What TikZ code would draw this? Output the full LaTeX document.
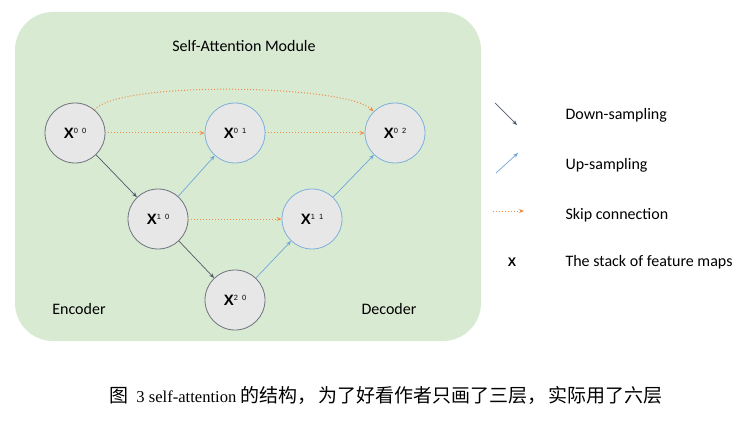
\documentclass[tikz,border=0pt]{standalone}
\usepackage{fontspec}
\usetikzlibrary{arrows.meta}
\setmainfont{Carlito}
\newfontfamily\capfont{Liberation Serif}
\newfontfamily\cjk{Noto Sans CJK SC}
\newfontfamily\mapfont{Liberation Sans}[BoldFont={Liberation Sans Bold}]

\definecolor{modgreen}{RGB}{217,234,211}
\definecolor{mapfill}{RGB}{231,231,231}
\definecolor{encline}{RGB}{110,115,125}
\definecolor{decline}{RGB}{125,175,220}
\definecolor{downclr}{RGB}{80,90,105}
\definecolor{upclr}{RGB}{111,165,216}
\definecolor{skipclr}{RGB}{240,140,70}

% feature map label: X with its two indices
\newcommand{\fmap}[2]{{\mapfont\fontsize{15}{15}\selectfont\bfseries X\raisebox{4.5pt}{\mdseries\fontsize{7.5}{7.5}\selectfont #1\hspace{4pt}#2}}}

\begin{document}
\begin{tikzpicture}[x=1pt, y=1pt,
    >={Stealth[length=5pt, width=4pt]},
    enc/.style={draw=encline, fill=mapfill, circle, line width=0.8pt, minimum size=60pt, inner sep=0pt},
    dec/.style={draw=decline, fill=mapfill, circle, line width=0.8pt, minimum size=60pt, inner sep=0pt},
    down/.style={->, draw=downclr, line width=0.7pt},
    up/.style={->, draw=upclr, line width=0.7pt},
    skip/.style={->, draw=skipclr, line width=1pt, dash pattern=on 1pt off 2pt},
    lbl/.style={font=\fontsize{16}{16}\selectfont}]
    \useasboundingbox (0,0) rectangle (752,421);
    \fill[modgreen, rounded corners=38pt] (15,80) rectangle (481,409);

    \node[lbl] (title) at (244,375) {Self-Attention Module};
    \node[lbl] (enclbl) at (79,112) {Encoder};
    \node[lbl] (declbl) at (389,112) {Decoder};

    \node[enc] (x00) at (75,288) {\fmap{0}{0}};
    \node[dec] (x01) at (235,288) {\fmap{0}{1}};
    \node[dec] (x02) at (395,288) {\fmap{0}{2}};
    \node[enc] (x10) at (158,202) {\fmap{1}{0}};
    \node[dec] (x11) at (312,202) {\fmap{1}{1}};
    \node[enc] (x20) at (235,121) {\fmap{2}{0}};

    \draw[down] (x00) to (x10);
    \draw[down] (x10) to (x20);

    \draw[up] (x10) to (x01);
    \draw[up] (x20) to (x11);
    \draw[up] (x11) to (x02);

    \draw[skip] (x00) to (x01);
    \draw[skip] (x01) to (x02);
    \draw[skip] (x10) to (x11);
    \draw[skip] (x00) to[out=50, in=135, looseness=0.35] (x02);

    % legend
    \coordinate (dn1) at (495,318);
    \coordinate (dn2) at (517,296);
    \coordinate (up1) at (496,248);
    \coordinate (up2) at (518,268);
    \coordinate (sk1) at (493,210);
    \coordinate (sk2) at (524,210);
    \draw[down] (dn1) -- (dn2);
    \draw[up] (up1) -- (up2);
    \draw[skip] (sk1) -- (sk2);
    \node[font=\mapfont\bfseries\fontsize{12.5}{12.5}\selectfont] (keyx) at (512,159) {X};

    \node[lbl, anchor=west] (keydown) at (562,306) {Down-sampling};
    \node[lbl, anchor=west] (keyup) at (562,256) {Up-sampling};
    \node[lbl, anchor=west] (keyskip) at (562,206) {Skip connection};
    \node[lbl, anchor=west] (keystack) at (562,159) {The stack of feature maps};

    \node (caption) at (386,26) {\cjk\fontsize{19}{19}\selectfont 图\hspace{8pt}{\capfont\fontsize{16.6}{16.6}\selectfont 3 self-attention} 的结构，\hspace{2pt}为了好看作者只画了三层，\hspace{2pt}实际用了六层};
\end{tikzpicture}
\end{document}
